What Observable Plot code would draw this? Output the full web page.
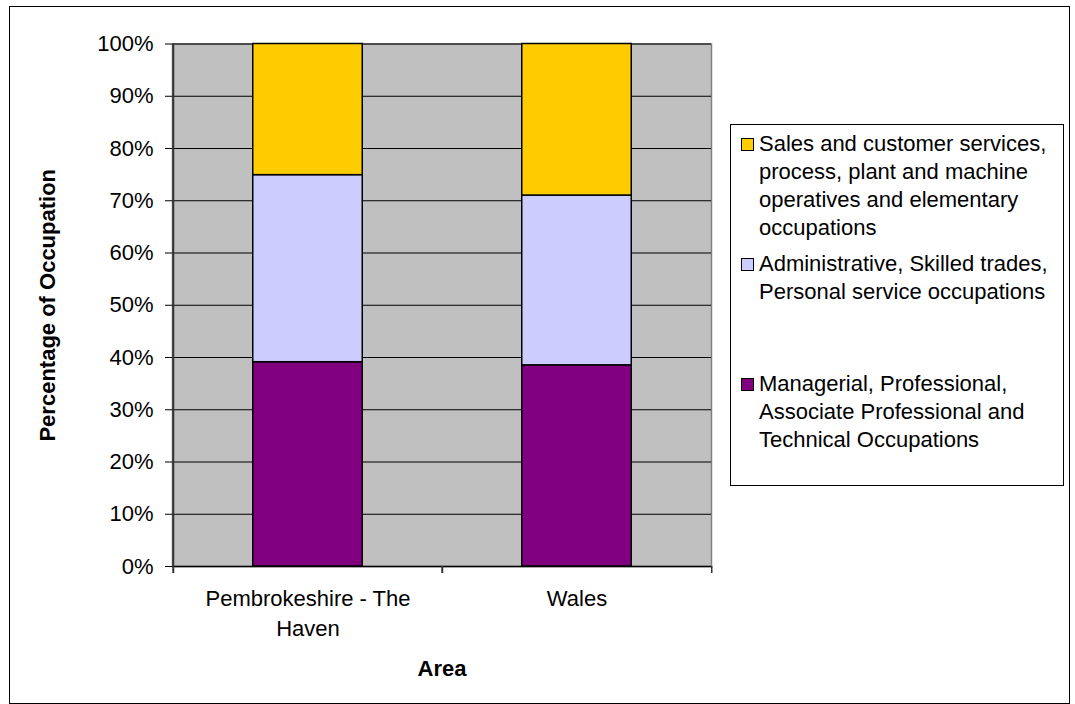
<!DOCTYPE html>
<html>
<head>
<meta charset="utf-8">
<script src="https://cdn.jsdelivr.net/npm/d3@7"></script>
<script src="https://cdn.jsdelivr.net/npm/@observablehq/plot@0.6"></script>
<style>
  html, body { margin: 0; padding: 0; background: #fff; }
  #wrap { position: relative; width: 1075px; height: 704px; overflow: hidden; background: #fff;
          font-family: "Liberation Sans", Arial, sans-serif; }
  #wrap svg { position: absolute; left: 0; top: 0; }
  #outer { position: absolute; left: 9px; top: 6px; width: 1059px; height: 696px; border: 1.5px solid #000; pointer-events: none; }
  #legend { position: absolute; left: 730px; top: 124px; width: 332px; height: 360px; border: 1px solid #000; background: #fff; }
  .entry { position: absolute; left: 0; font-size: 22px; line-height: 28px; color: #000; white-space: pre; }
  .sw { position: absolute; left: 10px; top: 8px; width: 11px; height: 11px; border: 1px solid #000; }
  .lbl { position: absolute; left: 28px; top: 0; }
</style>
</head>
<body>
<div id="wrap"><div id="outer"></div></div>
<script>
// ---- data ----
const categories = ["Pembrokeshire - The Haven", "Wales"];
const categoryLabels = ["Pembrokeshire - The\nHaven", "Wales"];
const groups = [
  "Managerial, Professional, Associate Professional and Technical Occupations",
  "Administrative, Skilled trades, Personal service occupations",
  "Sales and customer services, process, plant and machine operatives and elementary occupations"
];
const legendLabels = [
  "Managerial, Professional,\nAssociate Professional and\nTechnical Occupations",
  "Administrative, Skilled trades,\nPersonal service occupations",
  "Sales and customer services,\nprocess, plant and machine\noperatives and elementary\noccupations"
];
const managerial = [39.1, 38.5];
const administrative = [35.8, 32.5];
const sales = [25.1, 29.0];
const colors = ["#800080", "#CCCCFF", "#FFCC00"];
const yTicks = [0, 10, 20, 30, 40, 50, 60, 70, 80, 90, 100];

const series = [managerial, administrative, sales];
const data = categories.flatMap((c, i) => groups.map((g, j) => ({area: c, group: g, value: series[j][i]})));

// ---- layout ----
const W = 1075, H = 704;
const mL = 172, mR = 364, mT = 43.5, mB = 138;
const bw = (W - mL - mR) / categories.length;
const barWidth = 110;
const inset = (bw - barWidth) / 2;

const chart = Plot.plot({
  width: W, height: H,
  marginLeft: mL, marginRight: mR, marginTop: mT, marginBottom: mB,
  style: {fontFamily: "'Liberation Sans', Arial, sans-serif", fontSize: "22px", color: "#000", background: "transparent"},
  x: {domain: categories, padding: 0, label: null},
  y: {domain: [0, 100], label: null},
  color: {domain: groups, range: colors},
  marks: [
    Plot.frame({fill: "#C0C0C0", stroke: "#808080", strokeWidth: 1.5}),
    Plot.gridY(yTicks, {stroke: "#000", strokeOpacity: 1, strokeWidth: 1}),
    Plot.barY(data, {x: "area", y: "value", fill: "group", stroke: "#000", strokeWidth: 1.5, insetLeft: inset, insetRight: inset}),
    Plot.ruleY([0], {stroke: "#000", strokeWidth: 1.5}),
    Plot.ruleX(categories, {x: d => d, dx: -bw / 2, y1: -1.35, y2: d => d === categories[0] ? 100 : 0, stroke: "#333", strokeWidth: 2}),
    Plot.ruleX([categories[categories.length - 1]], {x: d => d, dx: bw / 2, y1: -1.35, y2: 0, stroke: "#333", strokeWidth: 1.5}),
    Plot.axisY(yTicks, {tickSize: 7, tickPadding: 12, tickFormat: d => d + "%", stroke: "#000", label: null}),
    Plot.axisX({tickSize: 0, tickPadding: 18, lineHeight: 1.36, tickFormat: d => categoryLabels[categories.indexOf(d)], label: null}),
    Plot.text(["Area"], {frameAnchor: "bottom", dy: 109, fontWeight: "bold", text: d => d}),
    Plot.text(["Percentage of Occupation"], {frameAnchor: "left", textAnchor: "middle", dx: -125, rotate: -90, fontWeight: "bold", text: d => d})
  ]
});

const wrap = document.getElementById("wrap");
wrap.insertBefore(chart, wrap.firstChild);

// ---- legend (top to bottom: reverse stacking order) ----
const legend = document.createElement("div");
legend.id = "legend";
const order = [2, 1, 0];
order.forEach((gi, k) => {
  const e = document.createElement("div");
  e.className = "entry";
  e.style.top = (5 + 120 * k) + "px";
  const sw = document.createElement("div");
  sw.className = "sw";
  sw.style.background = colors[gi];
  const l = document.createElement("div");
  l.className = "lbl";
  l.textContent = legendLabels[gi];
  e.appendChild(sw); e.appendChild(l);
  legend.appendChild(e);
});
wrap.appendChild(legend);
</script>
</body>
</html>
